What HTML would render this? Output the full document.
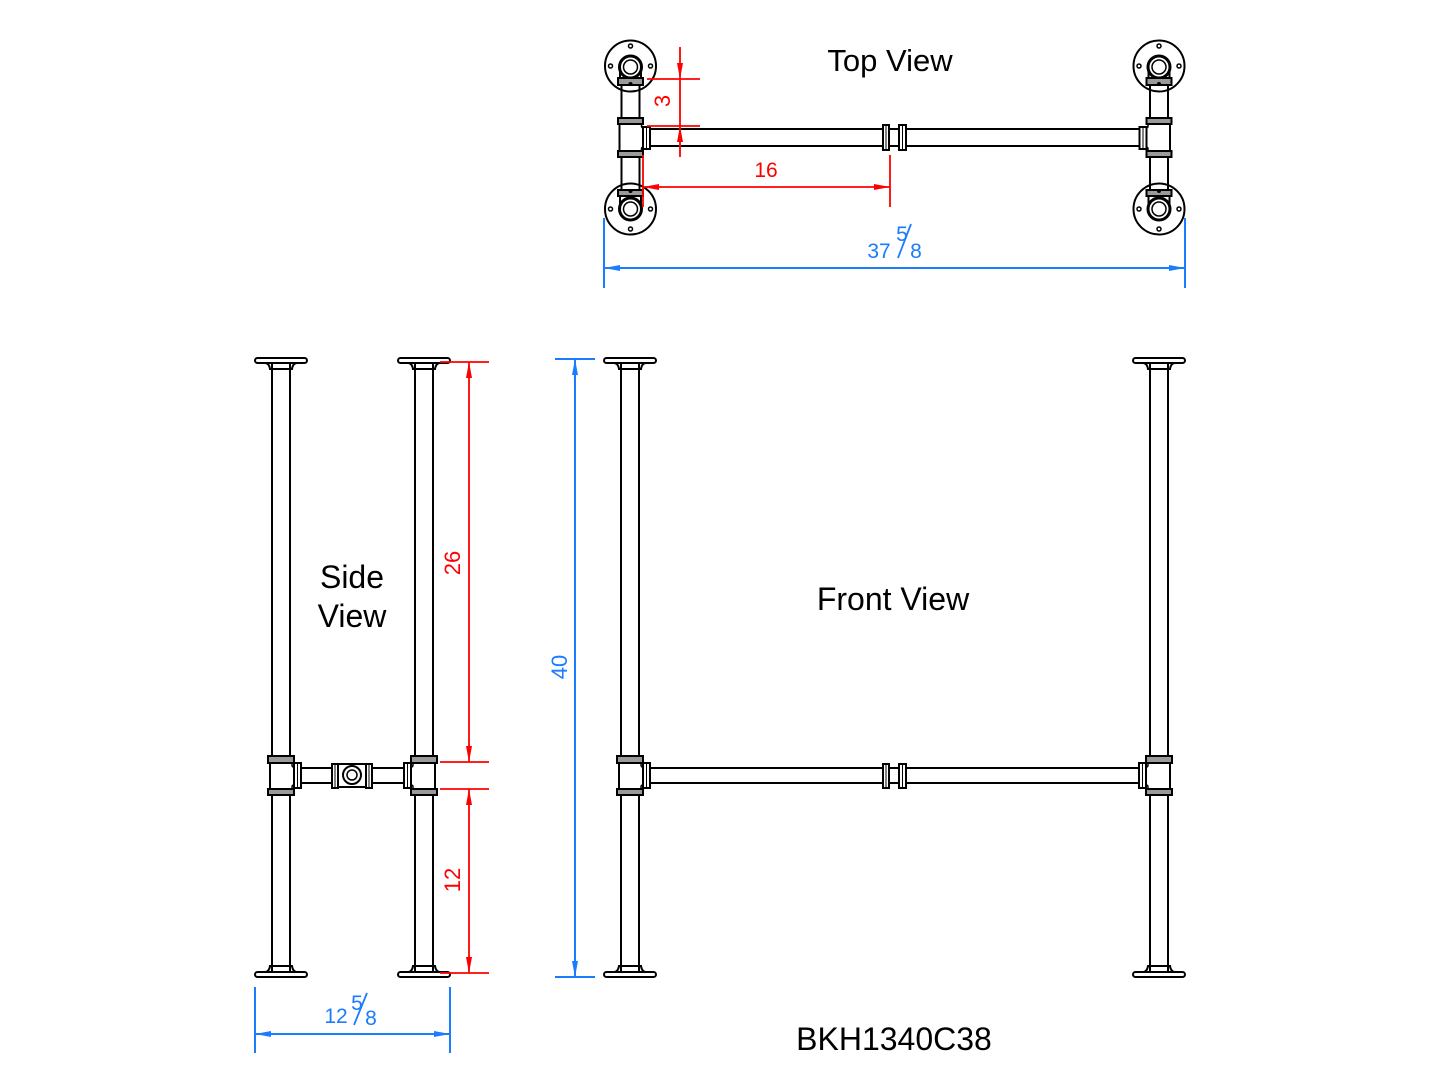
<!DOCTYPE html>
<html>
<head>
<meta charset="utf-8">
<style>
html,body{margin:0;padding:0;background:#fff;}
svg{display:block;}
text{font-family:"Liberation Sans",sans-serif;}
</style>
</head>
<body>
<svg width="1445" height="1084" viewBox="0 0 1445 1084" xmlns="http://www.w3.org/2000/svg">
<rect width="1445" height="1084" fill="#fff"/>
<defs>
  <g id="leg" fill="none" stroke="#000" stroke-width="2">
    <rect x="-26" y="358" width="52" height="5" rx="2.5" fill="#fff"/>
    <path d="M-16 363 Q-12 363 -11 369 L11 369 Q12 363 16 363"/>
    <rect x="-9" y="363" width="18" height="6"/>
    <line x1="-9" y1="369" x2="-9" y2="756"/>
    <line x1="9" y1="369" x2="9" y2="756"/>
    <rect x="-13" y="756" width="26" height="7" fill="#9a9a9a"/>
    <rect x="-13" y="789" width="26" height="6" fill="#9a9a9a"/>
    <line x1="-9" y1="795" x2="-9" y2="966"/>
    <line x1="9" y1="795" x2="9" y2="966"/>
    <rect x="-9" y="966" width="18" height="6"/>
    <path d="M-16 972 Q-12 972 -11 966 L11 966 Q12 972 16 972"/>
    <rect x="-26" y="972" width="52" height="5" rx="2.5" fill="#fff"/>
    <line x1="-11" y1="763" x2="-11" y2="789"/>
    <path d="M11 763 L11 765 Q11 767 13 767" stroke-width="1.5"/>
    <path d="M13 785 Q11 785 11 787 L11 789" stroke-width="1.5"/>
    <rect x="13" y="763" width="7" height="25" fill="#fff"/>
    <line x1="16.5" y1="764" x2="16.5" y2="787" stroke-width="1"/>
  </g>
  <g id="tv" fill="none" stroke="#000" stroke-width="2">
    <circle cx="0" cy="66" r="25.5" fill="#fff"/>
    <circle cx="0" cy="209" r="25.5" fill="#fff"/>
    <circle cx="0" cy="46" r="2" stroke-width="1.5"/>
    <circle cx="-20" cy="66" r="2" stroke-width="1.5"/>
    <circle cx="20" cy="66" r="2" stroke-width="1.5"/>
    <circle cx="0" cy="229" r="2" stroke-width="1.5"/>
    <circle cx="-20" cy="209" r="2" stroke-width="1.5"/>
    <circle cx="20" cy="209" r="2" stroke-width="1.5"/>
    <circle cx="0" cy="67" r="11" stroke-width="3"/>
    <circle cx="0" cy="67" r="7" stroke-width="1.5"/>
    <circle cx="0" cy="209" r="11" stroke-width="3"/>
    <circle cx="0" cy="209" r="7" stroke-width="1.5"/>
    <line x1="-10.5" y1="67" x2="-10.5" y2="78"/>
    <line x1="10.5" y1="67" x2="10.5" y2="78"/>
    <line x1="-10.5" y1="196" x2="-10.5" y2="209"/>
    <line x1="10.5" y1="196" x2="10.5" y2="209"/>
    <rect x="-12.5" y="78" width="25" height="7" fill="#9a9a9a"/>
    <circle cx="0" cy="84" r="2" fill="#000" stroke="none"/>
    <line x1="-9" y1="85" x2="-9" y2="118"/>
    <line x1="9" y1="85" x2="9" y2="118"/>
    <rect x="-12.5" y="118" width="25" height="6" fill="#9a9a9a"/>
    <line x1="-11" y1="124" x2="-11" y2="151"/>
    <path d="M11 124 L11 126 Q11 128 13 128" stroke-width="1.5"/>
    <path d="M13 147 Q11 147 11 149 L11 151" stroke-width="1.5"/>
    <rect x="-12.5" y="151" width="25" height="6" fill="#9a9a9a"/>
    <line x1="-9" y1="157" x2="-9" y2="190"/>
    <line x1="9" y1="157" x2="9" y2="190"/>
    <rect x="-12.5" y="190" width="25" height="6" fill="#9a9a9a"/>
    <circle cx="0" cy="191" r="2" fill="#000" stroke="none"/>
    <rect x="12.5" y="127" width="7" height="22" fill="#fff"/>
    <line x1="16" y1="128" x2="16" y2="148" stroke-width="1"/>
  </g>
</defs>

<!-- TOP VIEW -->
<g fill="none" stroke="#000" stroke-width="2">
  <line x1="650" y1="129" x2="883" y2="129"/>
  <line x1="650" y1="146" x2="883" y2="146"/>
  <line x1="889" y1="129" x2="899" y2="129"/>
  <line x1="889" y1="146" x2="899" y2="146"/>
  <line x1="907" y1="129" x2="1140" y2="129"/>
  <line x1="907" y1="146" x2="1140" y2="146"/>
  <rect x="883" y="125" width="6" height="25"/>
  <line x1="886" y1="126" x2="886" y2="149" stroke-width="1"/>
  <rect x="899" y="125" width="7" height="25"/>
  <line x1="902.5" y1="126" x2="902.5" y2="149" stroke-width="1"/>
</g>
<use href="#tv" transform="translate(630.5,0)"/>
<use href="#tv" transform="translate(1159,0) scale(-1,1)"/>

<text x="890" y="71" font-size="31" text-anchor="middle" fill="#000">Top View</text>

<g stroke="#ff0000" stroke-width="1.8" fill="none">
  <line x1="680" y1="47" x2="680" y2="157"/>
  <line x1="647" y1="79" x2="700" y2="79"/>
  <line x1="647" y1="126" x2="700" y2="126"/>
  <line x1="643" y1="187" x2="890" y2="187"/>
  <line x1="643" y1="155" x2="643" y2="207"/>
  <line x1="890" y1="155" x2="890" y2="207"/>
</g>
<g fill="#ff0000">
  <polygon points="680,79 677,63 683,63"/>
  <polygon points="680,126 677,142 683,142"/>
  <polygon points="643,187 659,184 659,190"/>
  <polygon points="890,187 874,184 874,190"/>
</g>
<text transform="translate(670,101) rotate(-90)" font-size="22" text-anchor="middle" fill="#ff0000">3</text>
<text x="766" y="177" font-size="21" text-anchor="middle" fill="#ff0000">16</text>

<g stroke="#1a7cff" stroke-width="2" fill="none">
  <line x1="604" y1="268" x2="1185" y2="268"/>
  <line x1="604" y1="218" x2="604" y2="288"/>
  <line x1="1185" y1="218" x2="1185" y2="288"/>
  <line x1="911" y1="224" x2="898" y2="258" stroke-width="1.8"/>
</g>
<g fill="#1a7cff">
  <polygon points="604,268 620,265 620,271"/>
  <polygon points="1185,268 1169,265 1169,271"/>
</g>
<text x="879" y="258" font-size="21" text-anchor="middle" fill="#1a7cff">37</text>
<text x="902" y="241" font-size="21" text-anchor="middle" fill="#1a7cff">5</text>
<text x="916" y="258" font-size="21" text-anchor="middle" fill="#1a7cff">8</text>

<!-- SIDE VIEW -->
<use href="#leg" transform="translate(281,0)"/>
<use href="#leg" transform="translate(424,0) scale(-1,1)"/>
<g fill="none" stroke="#000" stroke-width="2">
  <line x1="301" y1="768" x2="333" y2="768"/>
  <line x1="301" y1="783" x2="333" y2="783"/>
  <line x1="372" y1="768" x2="405" y2="768"/>
  <line x1="372" y1="783" x2="405" y2="783"/>
  <line x1="338" y1="764" x2="366" y2="764"/>
  <line x1="338" y1="787" x2="366" y2="787"/>
  <rect x="332" y="764" width="6" height="24" fill="#fff"/>
  <line x1="335" y1="765" x2="335" y2="787" stroke-width="1"/>
  <rect x="366" y="764" width="6" height="24" fill="#fff"/>
  <line x1="369" y1="765" x2="369" y2="787" stroke-width="1"/>
  <circle cx="352" cy="775" r="9"/>
  <circle cx="352" cy="775" r="5" stroke-width="1.5"/>
</g>
<text x="352" y="588" font-size="32" text-anchor="middle" fill="#000">Side</text>
<text x="352" y="627" font-size="32" text-anchor="middle" fill="#000">View</text>

<g stroke="#ff0000" stroke-width="1.8" fill="none">
  <line x1="469" y1="362" x2="469" y2="762"/>
  <line x1="469" y1="789" x2="469" y2="973"/>
  <line x1="440" y1="362" x2="489" y2="362"/>
  <line x1="440" y1="762" x2="489" y2="762"/>
  <line x1="440" y1="789" x2="489" y2="789"/>
  <line x1="440" y1="973" x2="489" y2="973"/>
</g>
<g fill="#ff0000">
  <polygon points="469,362 466,378 472,378"/>
  <polygon points="469,762 466,746 472,746"/>
  <polygon points="469,789 466,805 472,805"/>
  <polygon points="469,973 466,957 472,957"/>
</g>
<text transform="translate(460,563) rotate(-90)" font-size="22" text-anchor="middle" fill="#ff0000">26</text>
<text transform="translate(460,880) rotate(-90)" font-size="22" text-anchor="middle" fill="#ff0000">12</text>

<g stroke="#1a7cff" stroke-width="2" fill="none">
  <line x1="255" y1="1034" x2="450" y2="1034"/>
  <line x1="255" y1="987" x2="255" y2="1053"/>
  <line x1="450" y1="987" x2="450" y2="1053"/>
  <line x1="367" y1="993" x2="354" y2="1025" stroke-width="1.8"/>
</g>
<g fill="#1a7cff">
  <polygon points="255,1034 271,1031 271,1037"/>
  <polygon points="450,1034 434,1031 434,1037"/>
</g>
<text x="336" y="1023" font-size="21" text-anchor="middle" fill="#1a7cff">12</text>
<text x="357" y="1010" font-size="21" text-anchor="middle" fill="#1a7cff">5</text>
<text x="371" y="1025" font-size="21" text-anchor="middle" fill="#1a7cff">8</text>

<!-- FRONT VIEW -->
<use href="#leg" transform="translate(630,0)"/>
<use href="#leg" transform="translate(1159,0) scale(-1,1)"/>
<g fill="none" stroke="#000" stroke-width="2">
  <line x1="650" y1="768" x2="883" y2="768"/>
  <line x1="650" y1="783" x2="883" y2="783"/>
  <line x1="889" y1="768" x2="899" y2="768"/>
  <line x1="889" y1="783" x2="899" y2="783"/>
  <line x1="907" y1="768" x2="1139" y2="768"/>
  <line x1="907" y1="783" x2="1139" y2="783"/>
  <rect x="883" y="764" width="6" height="24"/>
  <line x1="886" y1="765" x2="886" y2="787" stroke-width="1"/>
  <rect x="899" y="764" width="7" height="24"/>
  <line x1="902.5" y1="765" x2="902.5" y2="787" stroke-width="1"/>
</g>
<text x="893" y="610" font-size="32" text-anchor="middle" fill="#000">Front View</text>

<g stroke="#1a7cff" stroke-width="2" fill="none">
  <line x1="575" y1="359" x2="575" y2="977"/>
  <line x1="555" y1="359" x2="595" y2="359"/>
  <line x1="555" y1="977" x2="595" y2="977"/>
</g>
<g fill="#1a7cff">
  <polygon points="575,359 572,375 578,375"/>
  <polygon points="575,977 572,961 578,961"/>
</g>
<text transform="translate(567,667) rotate(-90)" font-size="22" text-anchor="middle" fill="#1a7cff">40</text>

<text x="894" y="1050" font-size="32" text-anchor="middle" fill="#000">BKH1340C38</text>
</svg>
</body>
</html>
